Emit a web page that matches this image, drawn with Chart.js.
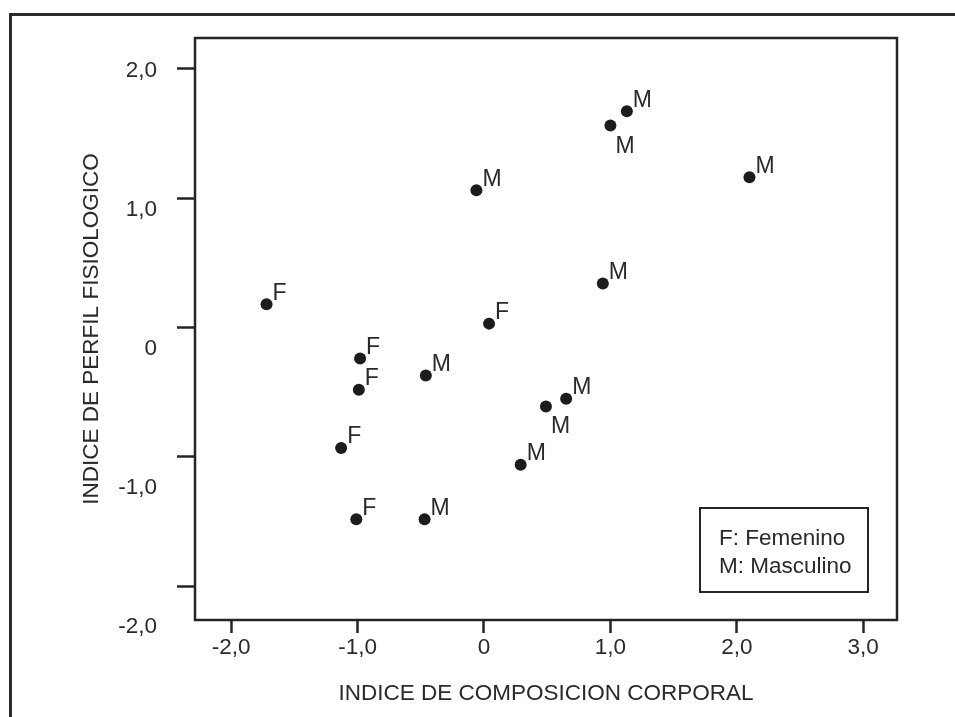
<!DOCTYPE html>
<html><head><meta charset="utf-8">
<script src="https://cdn.jsdelivr.net/npm/chart.js@4.4.1/dist/chart.umd.min.js"></script>
<style>
html,body{margin:0;padding:0;background:#fff;overflow:hidden;width:955px;height:717px}
#frame{position:absolute;left:9px;top:13px;width:1000px;height:800px;border-top:3px solid #2b2b2b;border-left:3px solid #2b2b2b;box-sizing:border-box}
canvas{position:absolute;left:0;top:0}
</style></head><body>
<div id="frame"></div>
<canvas id="c" width="955" height="717"></canvas>
<script>
// ---- data ----
const sexCodes    = ['F','M','M','M','M','M','F','F','F','M','M','M','F','M','F','M'];
const composicion = [-1.72,-0.06,1.00,1.13,2.10,0.94,0.04,-0.98,-0.99,-0.46,0.65,0.49,-1.13,0.29,-1.01,-0.47];
const perfil      = [0.18,1.06,1.56,1.67,1.16,0.34,0.03,-0.24,-0.48,-0.37,-0.55,-0.61,-0.93,-1.06,-1.48,-1.48];
const xTickValues = [-2,-1,0,1,2,3];
const xTickLabels = ['-2,0','-1,0','0','1,0','2,0','3,0'];
const yTickValues = [-2,-1,0,1,2];
const yTickLabels = ['-2,0','-1,0','0','1,0','2,0'];
const legendLines = ['F: Femenino','M: Masculino'];
const xTitle = 'INDICE DE COMPOSICION CORPORAL';
const yTitle = 'INDICE DE PERFIL FISIOLOGICO';

// ---- style ----
const FONT = '"Liberation Sans", Arial, Helvetica, sans-serif';
const FS = 22.5;
const INK = '#242424';
const TXT = '#2a2a2a';
const belowLabelIdx = [2, 11];

const points = composicion.map((x, i) => ({x: x, y: perfil[i]}));

const frameAndLabels = {
  id: 'frameAndLabels',
  afterDatasetsDraw(chart) {
    const ctx = chart.ctx, a = chart.chartArea;
    ctx.save();
    // plot frame
    ctx.strokeStyle = INK; ctx.lineWidth = 2.5;
    ctx.strokeRect(a.left, a.top, a.right - a.left, a.bottom - a.top);
    // point labels
    const meta = chart.getDatasetMeta(0);
    ctx.fillStyle = TXT;
    ctx.font = '23px ' + FONT;
    ctx.textAlign = 'left';
    ctx.textBaseline = 'alphabetic';
    meta.data.forEach((pt, i) => {
      if (belowLabelIdx.includes(i)) ctx.fillText(sexCodes[i], pt.x + 5, pt.y + 27);
      else ctx.fillText(sexCodes[i], pt.x + 6, pt.y - 4.5);
    });
    // legend box
    const bw = 168, bh = 84;
    const bx = a.right - 29 - bw, by = a.bottom - 28 - bh;
    ctx.lineWidth = 2;
    ctx.strokeRect(bx, by, bw, bh);
    ctx.font = FS + 'px ' + FONT;
    ctx.fillText(legendLines[0], bx + 19, by + 37);
    ctx.fillText(legendLines[1], bx + 19, by + 65);
    ctx.restore();
  }
};

new Chart(document.getElementById('c'), {
  type: 'scatter',
  data: {
    datasets: [{
      data: points,
      pointRadius: 6,
      pointHoverRadius: 6,
      backgroundColor: '#1c1c1c',
      borderWidth: 0
    }]
  },
  options: {
    responsive: false,
    animation: false,
    devicePixelRatio: 1,
    layout: {padding: {left: 20, top: 38, right: 58, bottom: 0}},
    plugins: {legend: {display: false}, tooltip: {enabled: false}},
    events: [],
    scales: {
      x: {
        type: 'linear', position: 'bottom',
        min: -2.286, max: 3.267,
        afterBuildTicks: s => { s.ticks = xTickValues.map(v => ({value: v})); },
        ticks: {
          autoSkip: false, maxRotation: 0, padding: 1.5,
          font: {size: FS, family: FONT}, color: TXT,
          callback: v => xTickLabels[xTickValues.indexOf(v)]
        },
        grid: {drawOnChartArea: false, drawTicks: true, tickLength: 13, tickWidth: 2.5, tickColor: INK},
        border: {display: false},
        title: {display: true, text: xTitle, font: {size: FS, family: FONT}, color: TXT, padding: {top: 0, bottom: 10}},
        afterFit: s => { s.height = 97; }
      },
      y: {
        type: 'linear', position: 'left', weight: 0,
        min: -2.259, max: 2.236,
        afterBuildTicks: s => { s.ticks = yTickValues.map(v => ({value: v})); },
        ticks: {display: false},
        grid: {drawOnChartArea: false, drawTicks: true, tickLength: 18, tickWidth: 2.5, tickColor: INK},
        border: {display: false},
        afterFit: s => { s.width = 18; }
      },
      yl: {
        type: 'linear', position: 'left', weight: 1,
        min: -1.953, max: 2.239,
        afterBuildTicks: s => { s.ticks = yTickValues.map(v => ({value: v})); },
        ticks: {
          autoSkip: false, padding: 20,
          font: {size: FS, family: FONT}, color: TXT,
          callback: v => yTickLabels[yTickValues.indexOf(v)]
        },
        grid: {display: false, drawTicks: false},
        border: {display: false},
        title: {display: true, text: yTitle, font: {size: FS, family: FONT}, color: TXT, padding: {top: 58, bottom: 0}},
        afterFit: s => { s.width = 157; }
      }
    }
  },
  plugins: [frameAndLabels]
});
</script>
</body></html>
